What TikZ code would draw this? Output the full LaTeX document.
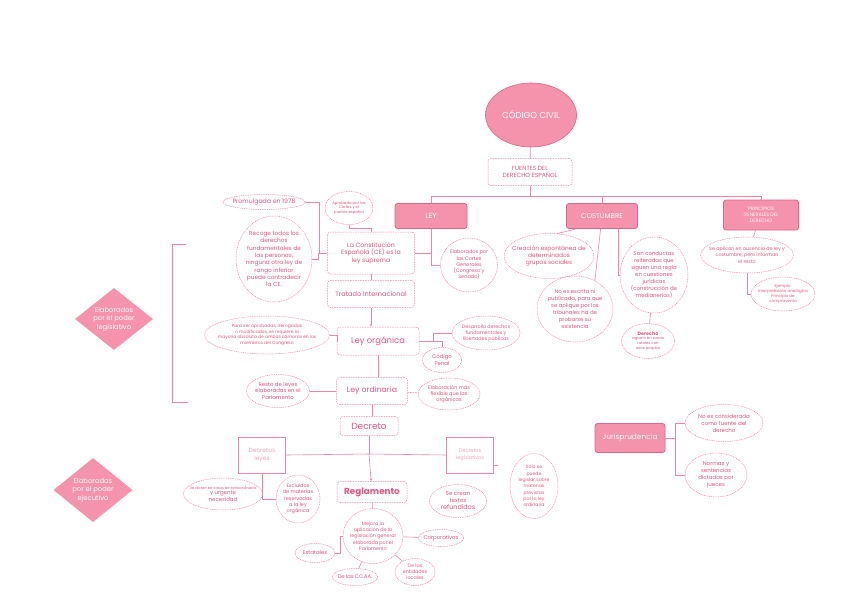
\documentclass[tikz,border=0pt]{standalone}
\usepackage{fontspec}
\setmainfont{Poppins}
\usepackage{xcolor}
\definecolor{rosafill}{HTML}{F592AC}
\definecolor{rosadark}{HTML}{D9688A}
\definecolor{rosaline}{HTML}{EE86A4}
\definecolor{rosatext}{HTML}{E2567F}
\definecolor{rosalight}{HTML}{F2A3BA}
\usepackage{tikz}
\usetikzlibrary{shapes.geometric, arrows.meta, positioning}

\begin{document}
\begin{tikzpicture}[x=1pt, y=-1pt,
  tam/.style 2 args={minimum width=#1pt, minimum height=#2pt},
  fuente/.style={rectangle, rounded corners=2.5pt, fill=rosafill, draw=rosadark,
    line width=0.8pt, text=white, align=center, inner sep=1pt,
    font=\fontsize{7}{8.4}\selectfont},
  caja/.style={rectangle, rounded corners=3pt, draw=rosaline, line width=0.5pt,
    dash pattern=on 1.5pt off 1pt, text=rosatext, align=center, inner sep=1pt,
    font=\fontsize{6}{7.4}\selectfont},
  marco/.style={rectangle, draw=rosaline, line width=0.5pt, text=rosalight,
    align=center, inner sep=1pt, font=\fontsize{6}{7.6}\selectfont},
  burbuja/.style={ellipse, draw=rosaline, line width=0.5pt,
    dash pattern=on 1pt off 0.8pt, text=rosatext, align=center, inner sep=-5pt,
    font=\fontsize{5}{6.4}\selectfont},
  rombo/.style={diamond, fill=rosafill, text=white, align=center, inner sep=-2pt,
    font=\fontsize{6.8}{8.4}\selectfont},
  link/.style={draw=rosaline, line width=0.6pt}
]
\path[fill=white] (0,0) rectangle (848,600);
\useasboundingbox (0,0) rectangle (848,600);

% Raiz
\node[ellipse, fill=rosafill, draw=rosadark, line width=0.6pt, text=white, tam={82}{64},
  font=\fontsize{8.6}{10}\selectfont] (codigo) at (531,115) {CÓDIGO CIVIL};
\node[caja, tam={84}{27}] (fuentes) at (530,172) {FUENTES DEL\\DERECHO ESPAÑOL};
\node[fuente, tam={72}{25}, font=\fontsize{7.5}{9}\selectfont] (ley) at (431,216) {LEY};
\node[fuente, tam={71}{25}] (costumbre) at (602,216) {COSTUMBRE};
\node[fuente, tam={75}{30}, font=\fontsize{4.8}{5.9}\selectfont] (principios) at (761,215)
  {PRINCIPIOS\\GENERALES DEL\\DERECHO};

\coordinate (barra) at (530,196);
\draw[link] (codigo) -- (fuentes);
\draw[link] (fuentes) -- (barra);
\draw[link] (barra) -| (ley);
\draw[link] (barra) -| (costumbre);
\draw[link] (barra) -| (principios);

% Ley
\node[burbuja, tam={82}{15}, font=\fontsize{6.2}{7}\selectfont] (promulgada) at (264,202) {Promulgada en 1978};
\node[burbuja, tam={48}{33}, font=\fontsize{3.8}{4.8}\selectfont] (aprobada) at (349,208)
  {Aprobada por las\\Cortes y el\\pueblo español};
\node[caja, tam={87}{42}, font=\fontsize{6.2}{7.6}\selectfont] (constitucion) at (371,253)
  {La Constitución\\Española (CE) es la\\ley suprema};
\node[burbuja, tam={76}{86}, font=\fontsize{5.8}{7.3}\selectfont] (recoge) at (274,259)
  {Recoge todos los\\derechos\\fundamentales de\\las personas,\\ninguna otra ley de\\rango inferior\\puede contradecir\\la CE.};
\node[burbuja, tam={57}{54}, font=\fontsize{5}{6.2}\selectfont] (cortes) at (469,265)
  {Elaborados por\\las Cortes\\Generales\\(Congreso y\\Senado)};
\node[caja, tam={87}{27}, font=\fontsize{6.6}{7.6}\selectfont] (tratado) at (371,294) {Tratado Internacional};

\draw[link] (ley) |- (constitucion);
\draw[link] (ley) |- (cortes);
\draw[link] (promulgada.east) -- ++(14,0) |- (constitucion.west);
\draw[link] (recoge.east) -- ++(6,0) |- (constitucion.west);
\draw[link] (aprobada.south) -- ++(0,4) -| (constitucion.north);
\draw[link] (constitucion) -- (tratado);

% Ley organica
\node[caja, tam={82}{28}, font=\fontsize{8.4}{10}\selectfont] (organica) at (378,341) {Ley orgánica};
\node[burbuja, tam={104}{38}, font=\fontsize{4.4}{5.5}\selectfont] (paraser) at (267,335)
  {Para ser aprobadas, derogadas\\o modificadas, se requiere la\\mayoría absoluta de ambas cámaras en los\\miembros del Congreso};
\node[burbuja, tam={68}{34}, font=\fontsize{4.8}{6}\selectfont] (desarrollo) at (486,333)
  {Desarrollo derechos\\fundamentales y\\libertades públicas};
\node[burbuja, tam={39}{25}, font=\fontsize{5.4}{6.6}\selectfont] (penal) at (442,360) {Código\\Penal};

\draw[link, -{Stealth[length=3pt]}] (tratado) -- (tratado |- organica.north);
\draw[link] (paraser.east) -- ++(8,0) |- (organica.west);
\draw[link] (organica.east) -- ++(14,0) coordinate (ojunta) |- (desarrollo.west);
\draw[link] (penal.north) |- (ojunta);

% Ley ordinaria
\node[caja, tam={71}{27}, font=\fontsize{7.8}{9}\selectfont] (ordinaria) at (372,391) {Ley ordinaria};
\node[burbuja, tam={63}{33}, font=\fontsize{5.4}{6.8}\selectfont] (resto) at (278,391)
  {Resto de leyes\\elaboradas en el\\Parlamento};
\node[burbuja, tam={62}{32}, font=\fontsize{5}{6.2}\selectfont] (elaboracion) at (449,394)
  {Elaboración más\\flexible que las\\orgánicas};

\draw[link] (organica.south) -- (organica.south |- ordinaria.north);
\draw[link] (ordinaria) -- (resto);
\draw[link, dash pattern=on 1.5pt off 1pt] (ordinaria) -- (elaboracion);

% Decreto
\node[caja, tam={58}{19}, font=\fontsize{9}{10}\selectfont] (decreto) at (369,426) {Decreto};
\node[marco, tam={47}{36}] (dleyes) at (262,455) {Decretos\\leyes};
\node[marco, tam={47}{36}, font=\fontsize{5}{6.4}\selectfont] (dlegis) at (470,455) {Decretos\\legislativos};
\node[caja, tam={70}{21}, font=\fontsize{8.8}{10}\selectfont\bfseries] (reglamento) at (372,492) {Reglamento};
\node[burbuja, tam={63}{32}, font=\fontsize{3.6}{5.4}\selectfont] (sedictan) at (223,494)
  {Se dictan en casos de extraordinaria\\{\fontsize{5.4}{6.8}\selectfont y urgente}\\{\fontsize{5.4}{6.8}\selectfont necesidad}};
\node[burbuja, tam={44}{48}, font=\fontsize{5}{6.3}\selectfont] (excluidos) at (298,499)
  {Excluidos\\de materias\\reservadas\\a la ley\\orgánica};
\node[burbuja, tam={57}{33}, font=\fontsize{5.6}{7}\selectfont] (secrean) at (458,501)
  {Se crean\\textos\\{\fontsize{6.4}{7}\selectfont refundidos}};
\node[burbuja, tam={48}{65}, font=\fontsize{4.6}{6.3}\selectfont] (solo) at (534,486)
  {Sólo se\\puede\\legislar sobre\\materias\\previstas\\por la ley\\ordinaria};

\coordinate (djunta) at (369,454);
\draw[link] (ordinaria.south) -- (ordinaria.south |- decreto.north);
\draw[link] (decreto) -- (djunta);
\draw[link] (djunta) -- (dleyes.east);
\draw[link] (djunta) -- (dlegis.west);
\draw[link, -{Stealth[length=3pt]}] (djunta) -- (reglamento);
\draw[link] (dleyes.south) |- (excluidos.west);
\draw[link] (sedictan.east) -- (sedictan.east -| dleyes.south);
\draw[link] ([yshift=-10pt]dlegis.east) -- ++(4,0);

% Reglamento
\node[burbuja, tam={60}{55}, font=\fontsize{4.8}{6.3}\selectfont] (mejora) at (373,536)
  {Mejora la\\aplicación de la\\legislación general\\elaborada por el\\Parlamento};
\node[burbuja, tam={40}{19}, font=\fontsize{5.4}{6.4}\selectfont] (estatales) at (315,553) {Estatales};
\node[burbuja, tam={45}{17}, font=\fontsize{5.2}{6.4}\selectfont] (ccaa) at (355,577) {De las CC.AA.};
\node[burbuja, tam={45}{17}, font=\fontsize{5.4}{6.4}\selectfont] (corporativo) at (441,538) {Corporativos};
\node[burbuja, tam={40}{27}, font=\fontsize{4.8}{6}\selectfont] (entidades) at (415,572)
  {De las\\entidades\\locales};

\draw[link] (reglamento) -- (mejora);
\draw[link] (mejora) -- (corporativo);
\draw[link] (estatales.east) -- ++(5,0) |- (mejora.west);
\draw[link] (mejora) -- (ccaa);
\draw[link] (mejora) -- (entidades);

% Costumbre
\node[burbuja, tam={88}{45}, font=\fontsize{5.9}{7.3}\selectfont] (creacion) at (549,256)
  {Creación espontánea de\\determinados\\grupos sociales};
\node[burbuja, tam={68}{76}, font=\fontsize{5.4}{7}\selectfont] (conductas) at (654,275)
  {Son conductas\\reiteradas que\\siguen una regla\\en cuestiones\\jurídicas\\(construcción de\\medianerías)};
\node[burbuja, tam={76}{66}, font=\fontsize{5.4}{7}\selectfont] (norma) at (575,309)
  {No es escrita ni\\publicada, para que\\se aplique por los\\tribunales ha de\\probarse su\\existencia};
\node[burbuja, tam={53}{35}, font=\fontsize{3.8}{4.8}\selectfont] (ejcost) at (648,341)
  {{\fontsize{4.8}{5.4}\selectfont\bfseries Derecho}\\agrario en zonas\\rurales con\\usos propios};

\draw[link] ([xshift=10pt]costumbre.south west) -- (creacion.70);
\draw[link] ([xshift=-20pt]costumbre.south east) |- (conductas.west);
\draw[link] (costumbre) -- (norma.55);
\draw[link] (conductas) -- (ejcost);

% Principios
\node[burbuja, tam={89}{36}, font=\fontsize{4.8}{6.2}\selectfont] (seaplican) at (747,255)
  {Se aplican en ausencia de ley y\\costumbre, pero informan\\el resto};
\node[burbuja, tam={64}{34}, font=\fontsize{4}{5.2}\selectfont] (ejprinc) at (783,294)
  {Ejemplo:\\Interpretación analógica\\Principio de\\compraventa};

\draw[link] (principios) -- (seaplican);
\draw[link] (seaplican.south) |- (ejprinc.west);

% Jurisprudencia
\node[fuente, tam={70}{29}, font=\fontsize{7.4}{8.8}\selectfont] (juris) at (630,438) {Jurisprudencia};
\node[burbuja, tam={78}{37}, font=\fontsize{5.5}{7}\selectfont] (noes) at (724,423)
  {No es considerada\\como fuente del\\derecho};
\node[burbuja, tam={62}{44}, font=\fontsize{5.5}{7}\selectfont] (normas) at (716,475)
  {Normas y\\sentencias\\dictadas por\\jueces};

\draw[link] (juris.east) -- ++(10,0) coordinate (jjunta) |- (noes.west);
\draw[link] (jjunta) |- (normas.west);

% Poderes
\node[rombo, tam={78}{62}] (legislativo) at (114,319) {Elaborados\\por el poder\\legislativo};
\node[rombo, tam={79}{64}] (ejecutivo) at (93,490) {Elaboradas\\por el poder\\ejecutivo};

\coordinate (llavea) at (186,244);
\coordinate (llaveb) at (188,402);
\draw[link] (llavea) -- ++(-14,0) |- (llaveb);
\end{tikzpicture}
\end{document}
